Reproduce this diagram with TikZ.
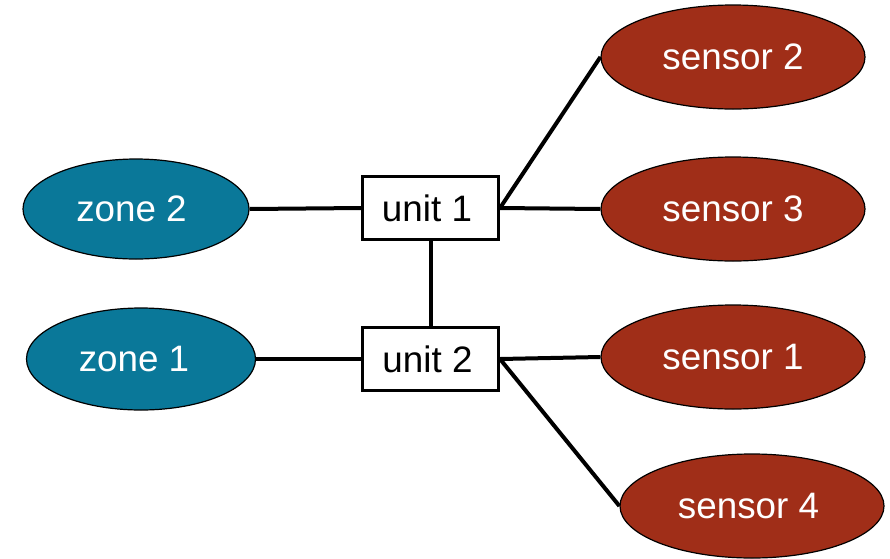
\documentclass[tikz,border=0pt]{standalone}
\usepackage{fontspec}
\setmainfont{Liberation Sans}
\usetikzlibrary{shapes.geometric}
\definecolor{zoneblue}{HTML}{0A7899}
\definecolor{sensred}{HTML}{A02E18}
\newcommand{\lft}[2]{#2\kern#1pt}
\tikzset{
  zone/.style={ellipse,draw=black,line width=0.6pt,fill=zoneblue,text=white,inner sep=0pt,minimum width=113pt,minimum height=50pt,font=\fontsize{18.4}{22}\selectfont},
  sens/.style={ellipse,draw=black,line width=0.6pt,fill=sensred,text=white,inner sep=0pt,minimum width=132pt,minimum height=52pt,font=\fontsize{18.4}{22}\selectfont},
  unitbox/.style={rectangle,draw=black,line width=1.5pt,fill=white,inner sep=0pt,minimum width=68pt,minimum height=31.5pt,font=\fontsize{18.4}{22}\selectfont},
  conn/.style={draw=black,line width=2pt}
}
\begin{document}
\begin{tikzpicture}[x=0.5pt,y=-0.5pt]
\useasboundingbox (0,0) rectangle (890,558);
\node[zone] (z2) at (136,209) {\lft{4.5}{zone 2}};
\node[zone,minimum width=114.5pt,minimum height=51pt] (z1) at (141,359) {\lft{7}{zone 1}};
\node[sens] (s2) at (733,57) {sensor 2};
\node[sens] (s3) at (733,209) {sensor 3};
\node[sens] (s1) at (733,357) {sensor 1};
\node[sens] (s4) at (752,506) {\lft{3.5}{sensor 4}};
\node[unitbox] (u1) at (430.5,208) {\lft{3.5}{unit 1}};
\node[unitbox] (u2) at (430.5,359) {\lft{3}{unit 2}};
\draw[conn] (z2.east) -- (u1.west);
\draw[conn] (z1.east) -- (u2.west);
\draw[conn] (u1.south) -- (u2.north);
\draw[conn] (u1.east) -- (s2.west);
\draw[conn] (u1.east) -- (s3.west);
\draw[conn] (u2.east) -- (s1.west);
\draw[conn] (u2.east) -- (s4.west);
\end{tikzpicture}
\end{document}
